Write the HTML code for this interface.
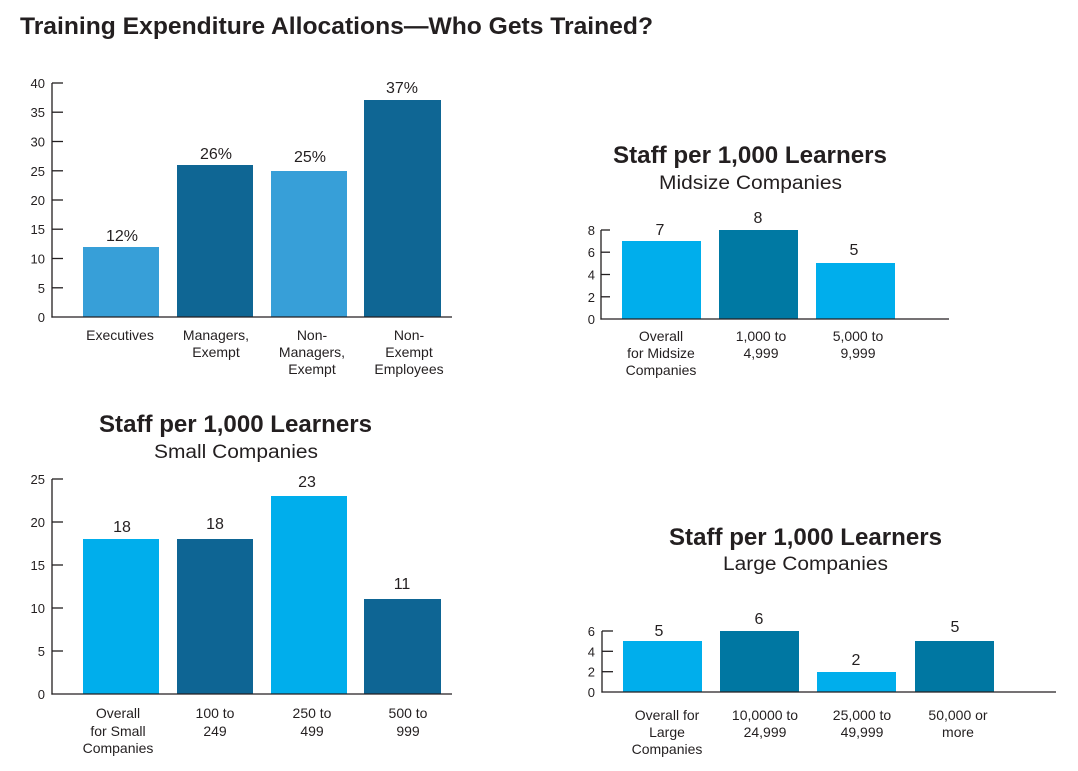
<!DOCTYPE html>
<html><head><meta charset="utf-8"><style>
html,body{margin:0;padding:0;background:#fff;}
svg{display:block;}
text{font-family:"Liberation Sans",Arial,sans-serif;fill:#231f20;}
.t{font-weight:bold;font-size:24px;}
.s{font-size:19px;}
.v{font-size:16px;text-anchor:middle;}
.c{font-size:14px;text-anchor:middle;}
.y{font-size:13px;text-anchor:end;}
line{stroke:#231f20;stroke-width:1.3;}
</style></head><body>
<svg width="1078" height="771" viewBox="0 0 1078 771" xmlns="http://www.w3.org/2000/svg">
<rect width="1078" height="771" fill="#fff"/>
<text class="t" x="20" y="34" textLength="633" lengthAdjust="spacingAndGlyphs">Training Expenditure Allocations—Who Gets Trained?</text>

<!-- Chart 1 -->
<rect x="83" y="247" width="76" height="70" fill="#379fd8"/>
<rect x="177" y="165" width="76" height="152" fill="#0f6694"/>
<rect x="271" y="171" width="76" height="146" fill="#379fd8"/>
<rect x="364" y="100" width="77" height="217" fill="#0f6694"/>
<line x1="52" y1="83" x2="52" y2="317.6"/>
<line x1="51.4" y1="317" x2="452" y2="317"/>
<g>
<line x1="52" y1="83" x2="63" y2="83"/>
<line x1="52" y1="112.2" x2="63" y2="112.2"/>
<line x1="52" y1="141.5" x2="63" y2="141.5"/>
<line x1="52" y1="170.8" x2="63" y2="170.8"/>
<line x1="52" y1="200" x2="63" y2="200"/>
<line x1="52" y1="229.2" x2="63" y2="229.2"/>
<line x1="52" y1="258.5" x2="63" y2="258.5"/>
<line x1="52" y1="287.8" x2="63" y2="287.8"/>
</g>
<text class="y" x="45" y="88">40</text>
<text class="y" x="45" y="117.2">35</text>
<text class="y" x="45" y="146.5">30</text>
<text class="y" x="45" y="175.8">25</text>
<text class="y" x="45" y="205">20</text>
<text class="y" x="45" y="234.2">15</text>
<text class="y" x="45" y="263.5">10</text>
<text class="y" x="45" y="292.8">5</text>
<text class="y" x="45" y="322">0</text>
<text class="v" x="122" y="241">12%</text>
<text class="v" x="216" y="159">26%</text>
<text class="v" x="310" y="162">25%</text>
<text class="v" x="402" y="93">37%</text>
<text class="c" x="120" y="340">Executives</text>
<text class="c" x="216" y="340">Managers,</text>
<text class="c" x="216" y="357">Exempt</text>
<text class="c" x="312" y="340">Non-</text>
<text class="c" x="312" y="357">Managers,</text>
<text class="c" x="312" y="374">Exempt</text>
<text class="c" x="409" y="340">Non-</text>
<text class="c" x="409" y="357">Exempt</text>
<text class="c" x="409" y="374">Employees</text>

<!-- Chart 2 Midsize -->
<text class="t" x="613" y="163" textLength="274" lengthAdjust="spacingAndGlyphs">Staff per 1,000 Learners</text>
<text class="s" x="659" y="189" textLength="183" lengthAdjust="spacingAndGlyphs">Midsize Companies</text>
<rect x="622" y="241" width="79" height="78" fill="#00aeec"/>
<rect x="719" y="230" width="79" height="89" fill="#0079a3"/>
<rect x="816" y="263" width="79" height="56" fill="#00aeec"/>
<line x1="601" y1="230" x2="601" y2="319.6"/>
<line x1="600.4" y1="319" x2="949" y2="319"/>
<line x1="601" y1="230" x2="610" y2="230"/>
<line x1="601" y1="252.2" x2="610" y2="252.2"/>
<line x1="601" y1="274.5" x2="610" y2="274.5"/>
<line x1="601" y1="296.8" x2="610" y2="296.8"/>
<text class="y" x="595" y="235">8</text>
<text class="y" x="595" y="257.2">6</text>
<text class="y" x="595" y="279.5">4</text>
<text class="y" x="595" y="301.8">2</text>
<text class="y" x="595" y="324">0</text>
<text class="v" x="660" y="235">7</text>
<text class="v" x="758" y="223">8</text>
<text class="v" x="854" y="255">5</text>
<text class="c" x="661" y="341">Overall</text>
<text class="c" x="661" y="358">for Midsize</text>
<text class="c" x="661" y="375">Companies</text>
<text class="c" x="761" y="341">1,000 to</text>
<text class="c" x="761" y="358">4,999</text>
<text class="c" x="858" y="341">5,000 to</text>
<text class="c" x="858" y="358">9,999</text>

<!-- Chart 3 Small -->
<text class="t" x="99" y="432" textLength="273" lengthAdjust="spacingAndGlyphs">Staff per 1,000 Learners</text>
<text class="s" x="154" y="458" textLength="164" lengthAdjust="spacingAndGlyphs">Small Companies</text>
<rect x="83" y="539" width="76" height="155" fill="#00aeec"/>
<rect x="177" y="539" width="76" height="155" fill="#0e6594"/>
<rect x="271" y="496" width="76" height="198" fill="#00aeec"/>
<rect x="364" y="599" width="77" height="95" fill="#0e6594"/>
<line x1="52" y1="479" x2="52" y2="694.6"/>
<line x1="51.4" y1="694" x2="452" y2="694"/>
<line x1="52" y1="479" x2="63" y2="479"/>
<line x1="52" y1="522" x2="63" y2="522"/>
<line x1="52" y1="565" x2="63" y2="565"/>
<line x1="52" y1="608" x2="63" y2="608"/>
<line x1="52" y1="651" x2="63" y2="651"/>
<text class="y" x="45" y="484">25</text>
<text class="y" x="45" y="527">20</text>
<text class="y" x="45" y="570">15</text>
<text class="y" x="45" y="613">10</text>
<text class="y" x="45" y="656">5</text>
<text class="y" x="45" y="699">0</text>
<text class="v" x="122" y="532">18</text>
<text class="v" x="215" y="529">18</text>
<text class="v" x="307" y="487">23</text>
<text class="v" x="402" y="589">11</text>
<text class="c" x="118" y="718">Overall</text>
<text class="c" x="118" y="736">for Small</text>
<text class="c" x="118" y="753">Companies</text>
<text class="c" x="215" y="718">100 to</text>
<text class="c" x="215" y="736">249</text>
<text class="c" x="312" y="718">250 to</text>
<text class="c" x="312" y="736">499</text>
<text class="c" x="408" y="718">500 to</text>
<text class="c" x="408" y="736">999</text>

<!-- Chart 4 Large -->
<text class="t" x="669" y="545" textLength="273" lengthAdjust="spacingAndGlyphs">Staff per 1,000 Learners</text>
<text class="s" x="723" y="570" textLength="165" lengthAdjust="spacingAndGlyphs">Large Companies</text>
<rect x="623" y="641" width="79" height="51" fill="#00aeec"/>
<rect x="720" y="631" width="79" height="61" fill="#0077a2"/>
<rect x="817" y="672" width="79" height="20" fill="#00aeec"/>
<rect x="915" y="641" width="79" height="51" fill="#0077a2"/>
<line x1="602" y1="631" x2="602" y2="692.6"/>
<line x1="601.4" y1="692" x2="1056" y2="692"/>
<line x1="602" y1="631" x2="613" y2="631"/>
<line x1="602" y1="651.3" x2="613" y2="651.3"/>
<line x1="602" y1="671.7" x2="613" y2="671.7"/>
<text class="y" x="595" y="636">6</text>
<text class="y" x="595" y="656.3">4</text>
<text class="y" x="595" y="676.7">2</text>
<text class="y" x="595" y="697">0</text>
<text class="v" x="659" y="636">5</text>
<text class="v" x="759" y="624">6</text>
<text class="v" x="856" y="665">2</text>
<text class="v" x="955" y="632">5</text>
<text class="c" x="667" y="720">Overall for</text>
<text class="c" x="667" y="737">Large</text>
<text class="c" x="667" y="754">Companies</text>
<text class="c" x="765" y="720">10,0000 to</text>
<text class="c" x="765" y="737">24,999</text>
<text class="c" x="862" y="720">25,000 to</text>
<text class="c" x="862" y="737">49,999</text>
<text class="c" x="958" y="720">50,000 or</text>
<text class="c" x="958" y="737">more</text>
</svg>
</body></html>
